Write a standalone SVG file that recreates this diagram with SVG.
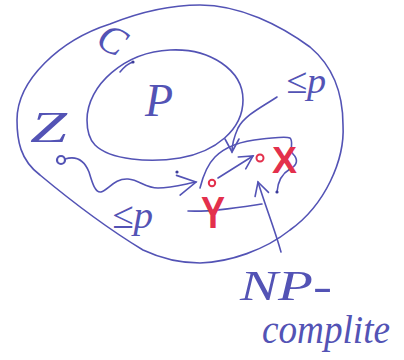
<svg xmlns="http://www.w3.org/2000/svg" width="404" height="360" viewBox="0 0 404 360">
<defs>
<style>
.ink{fill:none;stroke:#5353b5;stroke-width:1.6;stroke-linecap:round;stroke-linejoin:round}
.red{fill:none;stroke:#e3304c;stroke-width:2;stroke-linecap:round}
.t{font-family:"Liberation Serif","DejaVu Serif",serif;font-style:italic;fill:#5353b5}
.rt{font-family:"Liberation Sans","DejaVu Sans",sans-serif;font-weight:bold;fill:#e3304c}
.dot{fill:#3b3b9a}
</style>
<marker id="arr" viewBox="-20 -12 22 24" refX="0" refY="0" markerWidth="22" markerHeight="24" markerUnits="userSpaceOnUse" orient="auto">
<path d="M-18,-10 L0,0 L-18,10" fill="none" stroke="#5353b5" stroke-width="1.6" stroke-linecap="round"/>
</marker>
<marker id="arrs" viewBox="-16 -10 18 20" refX="0" refY="0" markerWidth="18" markerHeight="20" markerUnits="userSpaceOnUse" orient="auto">
<path d="M-13,-7 L0,0 L-13,7" fill="none" stroke="#5353b5" stroke-width="1.6" stroke-linecap="round"/>
</marker>
</defs>
<rect width="404" height="360" fill="#ffffff"/>

<g id="np-class">
<path class="ink" d="M17,120 C17,80 60,40 110,24 C140,12 170,5 200,5 C240,5 280,25 310,47 C335,68 343,95 343,125 C345,160 325,205 290,230 C265,250 230,262 200,263 C180,263 160,258 143,250 C110,230 70,200 40,175 C20,160 17,140 17,120 Z"/>
<text class="t" x="99" y="54" font-size="40" font-style="normal" transform="rotate(28 114 40)">C</text>
</g>

<g id="p-class">
<path class="ink" d="M87,120 C87,85 125,52 170,50 C210,48 243,70 243,100 C243,130 215,152 180,158 C150,163 110,160 95,145 C88,138 87,128 87,120 Z"/>
<path class="ink" d="M120,72 C125,66 129,63 133,62"/>
<circle class="dot" cx="133" cy="62" r="1.6"/>
<text class="t" x="145" y="116" font-size="46">P</text>
</g>

<g id="node-z">
<text class="t" x="30" y="142" font-size="44" font-style="normal" textLength="37" lengthAdjust="spacingAndGlyphs">Z</text>
<circle cx="61" cy="160" r="4" fill="none" stroke="#5353b5" stroke-width="2.2"/>
</g>

<g id="np-complete">
<path class="ink" d="M200,188 C203,176 207,165 215,157 C225,147 240,141 262,139 C275,138 285,136 290,138 C294,142 289,149 293,154 C298,159 298,165 290,169 C283,173 278,180 277,192"/>
<path class="ink" d="M188,211 C210,212 235,208 262,204"/>
<circle class="dot" cx="277" cy="192" r="1.6"/>
<text class="t" x="240" y="300" font-size="42" textLength="92" lengthAdjust="spacingAndGlyphs">NP-</text>
<text class="t" x="262" y="343" font-size="40" textLength="128" lengthAdjust="spacingAndGlyphs">complite</text>
</g>

<g id="node-x">
<circle class="red" cx="260" cy="158" r="3.5"/>
<text class="rt" x="272" y="173" font-size="36" textLength="25" lengthAdjust="spacingAndGlyphs">X</text>
</g>

<g id="node-y">
<circle class="red" cx="212" cy="183" r="3.2"/>
<text class="rt" x="201" y="228" font-size="44" textLength="24" lengthAdjust="spacingAndGlyphs">Y</text>
</g>

<g id="labels">
<text class="t" x="286" y="93" font-size="36" font-style="normal" textLength="40" lengthAdjust="spacingAndGlyphs">≤p</text>
<text class="t" x="112" y="228" font-size="38" font-style="normal" textLength="41" lengthAdjust="spacingAndGlyphs">≤p</text>
</g>

<g id="connectors">
<path class="ink" d="M65,159 C78,155 85,162 89,172 C92,182 95,193 101,192 C108,190 115,178 128,179 C140,180 145,188 158,188 C172,188 185,184 196,182" marker-end="url(#arr)"/>
<circle class="dot" cx="177" cy="172" r="1.6"/>
<path class="ink" d="M277,97 C262,107 245,115 238,128 C234,137 232,145 232,152" marker-end="url(#arrs)"/>
<path class="ink" d="M218,178 L253,156" marker-end="url(#arrs)"/>
<path class="ink" d="M281,252 C275,230 265,205 258,182" marker-end="url(#arrs)"/>
</g>
</svg>
